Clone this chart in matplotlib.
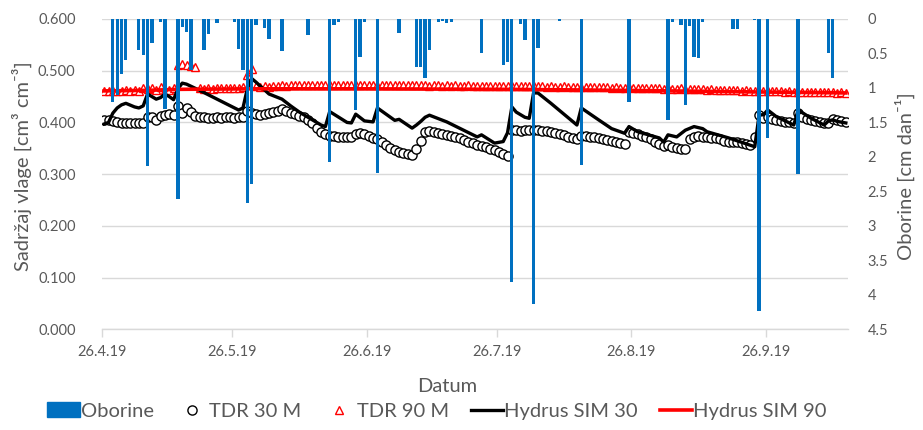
import numpy as np
import pandas as pd
import matplotlib
matplotlib.use("Agg")
import matplotlib.pyplot as plt
import matplotlib.dates as mdates
from matplotlib.lines import Line2D
from matplotlib.patches import Patch
from matplotlib.ticker import FixedLocator, FuncFormatter
from matplotlib.transforms import ScaledTranslation

plt.rcParams["font.family"] = ["Lato", "DejaVu Sans"]

# ---------------------------------------------------------------- data
start = pd.Timestamp("2019-04-26")
n_days = 172  # 26.4.2019 - 14.10.2019

# daily precipitation [cm/day], days counted from start
rain_day = [2, 3, 4, 5, 8, 9, 10, 11, 13, 14, 17, 18, 19, 20, 23, 24, 26,
            30, 31, 32, 33, 34, 35, 37, 38, 41, 47, 52, 53, 54, 58, 59, 60,
            63, 68, 72, 73, 74, 75, 77, 78, 79, 80, 87, 92, 93, 94, 96, 97,
            99, 100, 105, 110, 121, 130, 131, 133, 134, 135, 136, 137, 138,
            145, 146, 150, 151, 153, 160, 167, 168]
rain_cm = [1.20, 1.10, 0.80, 0.60, 0.45, 0.52, 2.13, 0.35, 0.04, 1.30, 2.61,
           0.12, 0.19, 0.74, 0.45, 0.22, 0.06,
           0.05, 0.44, 0.74, 2.67, 2.39, 0.09, 0.13, 0.29, 0.47, 0.23, 2.07,
           0.09, 0.04, 1.32, 0.55, 0.04,
           2.24, 0.21, 0.70, 0.70, 0.86, 0.45, 0.04, 0.03, 0.06, 0.04, 0.50,
           0.67, 0.62, 3.81, 0.07, 0.30,
           4.13, 0.42, 0.03, 2.12, 1.20, 1.47, 0.04, 0.08, 1.25, 0.10, 0.55,
           0.57, 0.05,
           0.14, 0.14, 0.02, 4.24, 1.73, 2.25, 0.50, 0.85]

# TDR measurements at 30 cm [cm3/cm3], one value per day
tdr30 = [0.405, 0.404, 0.402, 0.400, 0.399, 0.398, 0.398, 0.399, 0.398, 0.399,
         0.410, 0.410, 0.405, 0.412, 0.415, 0.416, 0.415, 0.432, 0.418, 0.428,
         0.420, 0.413, 0.410, 0.410, 0.409, 0.409, 0.410, 0.409, 0.410, 0.410,
         0.409, 0.410, 0.410, 0.423, 0.418, 0.416, 0.415, 0.417, 0.418, 0.420,
         0.422, 0.426, 0.422, 0.419, 0.416, 0.413, 0.410, 0.405, 0.398, 0.390,
         0.382, 0.377, 0.374, 0.373, 0.372, 0.372, 0.371, 0.371, 0.378, 0.380,
         0.378, 0.374, 0.370, 0.367, 0.362, 0.356, 0.351, 0.347, 0.343, 0.340,
         0.338, 0.337, 0.348, 0.364, 0.381, 0.383, 0.381, 0.380, 0.378, 0.376,
         0.374, 0.372, 0.369, 0.366, 0.363, 0.360, 0.357, 0.355, 0.352, 0.349,
         0.346, 0.343, 0.338, 0.336, 0.385, 0.385, 0.384, 0.385, 0.385, 0.386,
         0.385, 0.384, 0.383, 0.381, 0.379, 0.377, 0.375, 0.372, 0.370, 0.367,
         0.373, 0.374, 0.372, 0.371, 0.370, 0.368, 0.366, 0.364, 0.362, 0.360,
         0.358, 0.382, 0.380, 0.377, 0.374, 0.371, 0.367, 0.363, 0.358, 0.354,
         0.356, 0.353, 0.351, 0.349, 0.348, 0.368, 0.372, 0.373, 0.372, 0.371,
         0.370, 0.369, 0.367, 0.365, 0.363, 0.362, 0.362, 0.360, 0.358, 0.356,
         0.371, 0.414, 0.408, 0.410, 0.407, 0.405, 0.403, 0.401, 0.400, 0.399,
         0.418, 0.410, 0.407, 0.405, 0.403, 0.401, 0.399, 0.398, 0.406, 0.404,
         0.402, 0.401]

# TDR measurements at 90 cm [cm3/cm3], one value per day
tdr90 = [0.460, 0.460, 0.460, 0.461, 0.461, 0.462, 0.461, 0.463, 0.461, 0.466,
         0.465, 0.466, 0.463, 0.468, 0.462, 0.463, 0.466, 0.511, 0.513, 0.512,
         0.510, 0.508, 0.466, 0.465, 0.466, 0.465, 0.466, 0.467, 0.466, 0.466,
         0.467, 0.466, 0.468, 0.492, 0.503, 0.470, 0.469, 0.470, 0.469, 0.470,
         0.471, 0.472, 0.471, 0.472, 0.472, 0.473, 0.472, 0.473, 0.472, 0.473,
         0.473, 0.472, 0.473, 0.473, 0.472, 0.473, 0.473, 0.472, 0.473, 0.472,
         0.473, 0.472, 0.473, 0.472, 0.472, 0.473, 0.472, 0.472, 0.473, 0.472,
         0.472, 0.472, 0.473, 0.472, 0.472, 0.471, 0.472, 0.472, 0.471, 0.472,
         0.471, 0.472, 0.471, 0.471, 0.472, 0.471, 0.471, 0.470, 0.471, 0.470,
         0.471, 0.470, 0.470, 0.471, 0.470, 0.470, 0.471, 0.470, 0.470, 0.471,
         0.470, 0.470, 0.469, 0.470, 0.469, 0.469, 0.470, 0.469, 0.469, 0.468,
         0.469, 0.468, 0.469, 0.468, 0.468, 0.469, 0.468, 0.467, 0.468, 0.467,
         0.467, 0.468, 0.467, 0.466, 0.467, 0.466, 0.466, 0.467, 0.466, 0.465,
         0.466, 0.465, 0.465, 0.466, 0.465, 0.464, 0.465, 0.464, 0.464, 0.463,
         0.464, 0.463, 0.463, 0.462, 0.463, 0.462, 0.462, 0.461, 0.462, 0.461,
         0.461, 0.461, 0.460, 0.461, 0.460, 0.460, 0.460, 0.459, 0.460, 0.459,
         0.459, 0.459, 0.459, 0.458, 0.459, 0.458, 0.458, 0.458, 0.458, 0.457,
         0.458, 0.457]

# Hydrus simulation at 30 cm: breakpoints (day, value)
sim30_day = [0, 1, 2, 3, 4, 5, 7, 8, 9, 10, 11, 12, 13, 14, 15, 16, 17, 18, 19,
             20, 22, 31, 32, 33, 34, 35, 38, 41, 43, 45, 50, 51, 52, 56, 57, 58,
             60, 62, 63, 67, 68, 71, 72, 73, 74, 75, 79, 86, 87, 90, 92, 93, 94,
             95, 97, 98, 99, 100, 103, 109, 110, 114, 117, 120, 121, 123, 128,
             129, 130, 132, 134, 136, 138, 139, 144, 150, 151, 152, 153, 155,
             159, 160, 163, 166, 167, 168, 169, 171]
sim30_val = [0.397, 0.400, 0.418, 0.428, 0.434, 0.437, 0.430, 0.428, 0.432,
             0.455, 0.450, 0.445, 0.448, 0.455, 0.450, 0.444, 0.465, 0.476,
             0.474, 0.470, 0.462, 0.424, 0.428, 0.465, 0.485, 0.478, 0.455,
             0.445, 0.432, 0.420, 0.395, 0.392, 0.421, 0.400, 0.399, 0.416,
             0.403, 0.401, 0.428, 0.404, 0.406, 0.389, 0.395, 0.402, 0.410,
             0.414, 0.401, 0.372, 0.376, 0.360, 0.363, 0.380, 0.430, 0.420,
             0.410, 0.408, 0.457, 0.457, 0.437, 0.395, 0.428, 0.405, 0.388,
             0.379, 0.392, 0.382, 0.370, 0.362, 0.376, 0.372, 0.385, 0.392,
             0.388, 0.382, 0.370, 0.353, 0.414, 0.415, 0.424, 0.411, 0.395,
             0.424, 0.408, 0.395, 0.403, 0.405, 0.402, 0.399]

# Hydrus simulation at 90 cm: breakpoints (day, value)
sim90_day = [0, 10, 17, 34, 60, 94, 120, 150, 171]
sim90_val = [0.461, 0.462, 0.464, 0.465, 0.465, 0.464, 0.462, 0.459, 0.457]

tick_labels = ["26.4.19", "26.5.19", "26.6.19", "26.7.19", "26.8.19", "26.9.19"]

# ---------------------------------------------------------------- styling
BLUE = "#0070C0"
GRID = "#D9D9D9"
TXT = "#595959"
FS_TITLE = 14.5
FS_TICK = 10.5

t0 = mdates.date2num(start)
x_daily = t0 + np.arange(n_days) + 0.5
x_rain = t0 + np.array(rain_day) + 0.5
x_sim30 = t0 + np.array(sim30_day) + 0.5
x_sim90 = t0 + np.array(sim90_day) + 0.5
tick_pos = mdates.date2num(pd.to_datetime(tick_labels, format="%d.%m.%y"))

fig = plt.figure(figsize=(9.23, 4.30), dpi=100)
ax = fig.add_axes([102 / 923, 1 - 329.3 / 430, 746 / 923, 310.3 / 430])

circ = dict(ls="none", marker="o", ms=6.6, mec="black", mfc="white", mew=1.0)
tri = dict(ls="none", marker="^", ms=6.2, mec="red", mfc="white", mew=1.0)

ax.plot(x_daily, tdr30, zorder=3, **circ)
ax.plot(x_daily, tdr90, zorder=3, **tri)
ax.plot(x_sim30, sim30_val, color="black", lw=2.4, zorder=4,
        solid_joinstyle="round")
ax.plot(x_sim90, sim90_val, color="red", lw=2.6, zorder=4)

ax.set_xlim(t0, t0 + n_days)
ax.set_ylim(0, 0.6)
ax.yaxis.set_major_locator(FixedLocator(np.arange(0, 0.61, 0.1)))
ax.yaxis.set_major_formatter(FuncFormatter(lambda v, p: f"{v:.3f}"))
ax.yaxis.grid(True, color=GRID, lw=1.0)
ax.set_axisbelow(True)
ax.set_xticks(tick_pos)
ax.set_xticklabels(tick_labels)
shift = ScaledTranslation(3 / 100, 0, fig.dpi_scale_trans)
for lab in ax.get_xticklabels():
    lab.set_transform(lab.get_transform() + shift)

for s in ("left", "right", "top"):
    ax.spines[s].set_visible(False)
ax.spines["bottom"].set_color(GRID)
ax.spines["bottom"].set_linewidth(1.0)
ax.tick_params(axis="y", length=0, pad=19, labelsize=FS_TICK, labelcolor=TXT)
ax.tick_params(axis="x", length=6, width=1.0, color=GRID, pad=5,
               labelsize=FS_TICK, labelcolor=TXT)

ax2 = ax.twinx()
ax2.bar(x_rain, rain_cm, width=0.75, color=BLUE, zorder=2)
ax2.set_ylim(4.5, 0)
ax2.yaxis.set_major_locator(FixedLocator(np.arange(0, 4.51, 0.5)))
ax2.yaxis.set_major_formatter(FuncFormatter(lambda v, p: f"{v:g}"))
for s in ("left", "right", "top", "bottom"):
    ax2.spines[s].set_visible(False)
ax2.tick_params(axis="y", length=0, pad=14, labelsize=FS_TICK, labelcolor=TXT)

fig.text(22 / 923, 1 - 166 / 430, "Sadržaj vlage [cm³ cm⁻³]", rotation=90,
         ha="center", va="center", fontsize=FS_TITLE, color=TXT)
fig.text(905 / 923, 1 - 176 / 430, "Oborine [cm dan⁻¹]", rotation=90,
         ha="center", va="center", fontsize=FS_TITLE, color=TXT)
fig.text(447 / 923, 1 - 386 / 430, "Datum", ha="center", va="center",
         fontsize=FS_TITLE, color=TXT)

handles = [
    Patch(facecolor=BLUE, edgecolor=BLUE),
    Line2D([], [], **circ),
    Line2D([], [], **tri),
    Line2D([], [], color="black", lw=2.4),
    Line2D([], [], color="red", lw=2.6),
]
labels = ["Oborine", "TDR 30 M", "TDR 90 M", "Hydrus SIM 30", "Hydrus SIM 90"]
leg = fig.legend(handles, labels, loc="center", ncol=5, frameon=False,
                 bbox_to_anchor=(437 / 923, 1 - 411 / 430), fontsize=FS_TITLE,
                 handlelength=1.6, handleheight=0.75, handletextpad=0.05,
                 columnspacing=1.1, borderaxespad=0)
for t in leg.get_texts():
    t.set_color(TXT)

fig.savefig("out.png", dpi=100)
